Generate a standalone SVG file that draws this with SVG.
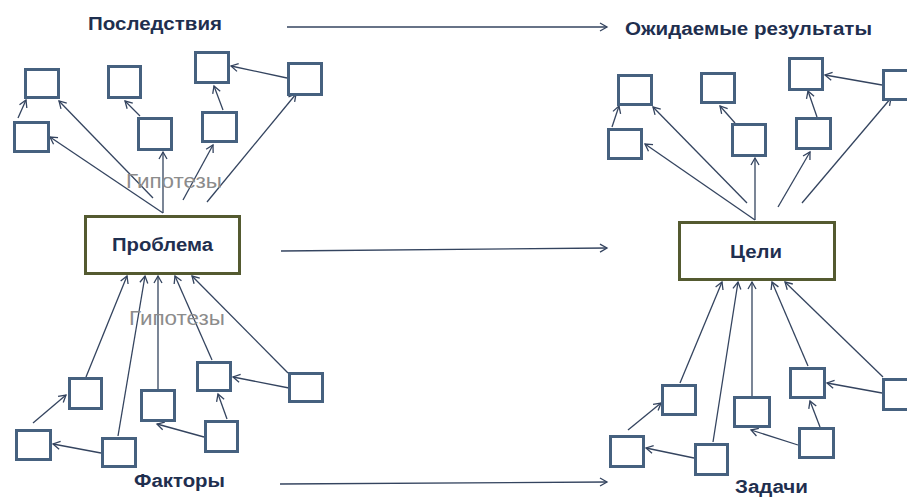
<svg xmlns="http://www.w3.org/2000/svg" width="907" height="497" viewBox="0 0 907 497">
<style>
.box{fill:#ffffff;stroke:#46617f;stroke-width:3}
.main{fill:#ffffff;stroke:#545a30;stroke-width:3}
.c{stroke:#34445f;stroke-width:1.3;fill:none;marker-end:url(#ah)}
.t{font-family:"Liberation Sans",Arial,sans-serif;font-weight:bold;font-size:18px;fill:#1f2f4f}
.h{font-family:"Liberation Sans",Arial,sans-serif;font-size:20px;fill:#8c8c8c}
</style>
<defs>
<marker id="ah" markerUnits="userSpaceOnUse" markerWidth="12" markerHeight="12" refX="8" refY="5" orient="auto">
<path d="M1,1 L8,5 L1,9" fill="none" stroke="#34445f" stroke-width="1.3"/>
</marker>
</defs>
<rect width="907" height="497" fill="#ffffff"/>
<g id="connectors">
<line class="c" x1="18" y1="118" x2="26" y2="100"/>
<line class="c" x1="153" y1="198" x2="59" y2="101"/>
<line class="c" x1="163" y1="213" x2="50" y2="137"/>
<line class="c" x1="163" y1="213" x2="163" y2="152"/>
<line class="c" x1="183" y1="200" x2="213" y2="145"/>
<line class="c" x1="207" y1="202" x2="296" y2="94"/>
<line class="c" x1="140" y1="116" x2="125" y2="101"/>
<line class="c" x1="223" y1="110" x2="214" y2="86"/>
<line class="c" x1="287" y1="78" x2="231" y2="66"/>
<line class="c" x1="86" y1="377" x2="127" y2="276"/>
<line class="c" x1="118" y1="436" x2="145" y2="276"/>
<line class="c" x1="158" y1="389" x2="158" y2="276"/>
<line class="c" x1="212" y1="360" x2="175" y2="276"/>
<line class="c" x1="288" y1="373" x2="192" y2="276"/>
<line class="c" x1="33" y1="423" x2="66" y2="395"/>
<line class="c" x1="101" y1="453" x2="53" y2="444"/>
<line class="c" x1="204" y1="437" x2="157" y2="424"/>
<line class="c" x1="227" y1="419" x2="218" y2="394"/>
<line class="c" x1="289" y1="388" x2="233" y2="377"/>
<line class="c" x1="612" y1="127" x2="619" y2="106"/>
<line class="c" x1="747" y1="203" x2="653" y2="107"/>
<line class="c" x1="755" y1="220" x2="645" y2="144"/>
<line class="c" x1="755" y1="220" x2="755" y2="158"/>
<line class="c" x1="735" y1="123" x2="720" y2="106"/>
<line class="c" x1="778" y1="207" x2="810" y2="152"/>
<line class="c" x1="802" y1="203" x2="891" y2="98"/>
<line class="c" x1="817" y1="117" x2="808" y2="91"/>
<line class="c" x1="882" y1="85" x2="825" y2="75"/>
<line class="c" x1="680" y1="383" x2="722" y2="282"/>
<line class="c" x1="713" y1="442" x2="738" y2="282"/>
<line class="c" x1="752" y1="396" x2="752" y2="282"/>
<line class="c" x1="808" y1="366" x2="772" y2="282"/>
<line class="c" x1="883" y1="377" x2="785" y2="282"/>
<line class="c" x1="628" y1="430" x2="661" y2="403"/>
<line class="c" x1="694" y1="458" x2="646" y2="448"/>
<line class="c" x1="798" y1="445" x2="751" y2="430"/>
<line class="c" x1="820" y1="427" x2="810" y2="401"/>
<line class="c" x1="882" y1="393" x2="827" y2="383"/>
<line class="c" x1="287" y1="27" x2="607" y2="27"/>
<line class="c" x1="281" y1="251" x2="607" y2="248"/>
<line class="c" x1="280" y1="484" x2="607" y2="482"/>
</g>
<g id="n-a"><rect class="box" x="25.5" y="69.5" width="33" height="28"/></g>
<g id="n-b"><rect class="box" x="14.5" y="122.5" width="34" height="29"/></g>
<g id="n-c"><rect class="box" x="108.5" y="66.5" width="32" height="31"/></g>
<g id="n-d"><rect class="box" x="138.5" y="118.5" width="33" height="31"/></g>
<g id="n-e"><rect class="box" x="195.5" y="52.5" width="33" height="30"/></g>
<g id="n-f"><rect class="box" x="202.5" y="112.5" width="34" height="29"/></g>
<g id="n-g"><rect class="box" x="288.5" y="63.5" width="33" height="31"/></g>
<g id="problem"><rect class="main" x="85.5" y="216.5" width="154" height="57"/><text class="t" x="112" y="251" textLength="101" lengthAdjust="spacingAndGlyphs">Проблема</text></g>
<g id="n-h"><rect class="box" x="69.5" y="378.5" width="32" height="30"/></g>
<g id="n-i"><rect class="box" x="16.5" y="430.5" width="34" height="29"/></g>
<g id="n-j"><rect class="box" x="102.5" y="438.5" width="33" height="28"/></g>
<g id="n-k"><rect class="box" x="141.5" y="390.5" width="33" height="30"/></g>
<g id="n-l"><rect class="box" x="197.5" y="362.5" width="33" height="28"/></g>
<g id="n-m"><rect class="box" x="205.5" y="421.5" width="32" height="30"/></g>
<g id="n-n"><rect class="box" x="289.5" y="373.5" width="33" height="28"/></g>
<g id="n-p1"><rect class="box" x="618.5" y="75.5" width="33" height="29"/></g>
<g id="n-p2"><rect class="box" x="608.5" y="129.5" width="33" height="29"/></g>
<g id="n-p3"><rect class="box" x="701.5" y="73.5" width="33" height="29"/></g>
<g id="n-p4"><rect class="box" x="732.5" y="124.5" width="33" height="31"/></g>
<g id="n-p5"><rect class="box" x="789.5" y="58.5" width="33" height="31"/></g>
<g id="n-p6"><rect class="box" x="796.5" y="118.5" width="34" height="30"/></g>
<g id="n-p7"><rect class="box" x="883.5" y="70.5" width="34" height="29"/></g>
<g id="goals"><rect class="main" x="679.5" y="222.5" width="155" height="57"/><text class="t" x="730" y="258" textLength="52" lengthAdjust="spacingAndGlyphs">Цели</text></g>
<g id="n-q1"><rect class="box" x="662.5" y="385.5" width="33" height="29"/></g>
<g id="n-q2"><rect class="box" x="610.5" y="436.5" width="33" height="30"/></g>
<g id="n-q3"><rect class="box" x="695.5" y="444.5" width="32" height="30"/></g>
<g id="n-q4"><rect class="box" x="734.5" y="397.5" width="35" height="29"/></g>
<g id="n-q5"><rect class="box" x="790.5" y="368.5" width="34" height="29"/></g>
<g id="n-q6"><rect class="box" x="799.5" y="428.5" width="34" height="29"/></g>
<g id="n-q7"><rect class="box" x="883.5" y="379.5" width="34" height="30"/></g>
<g id="labels">
<text class="t" x="88" y="30" textLength="134" lengthAdjust="spacingAndGlyphs">Последствия</text>
<text class="t" x="625" y="35" textLength="247" lengthAdjust="spacingAndGlyphs">Ожидаемые результаты</text>
<text class="t" x="134" y="487" textLength="91" lengthAdjust="spacingAndGlyphs">Факторы</text>
<text class="t" x="735" y="493" textLength="73" lengthAdjust="spacingAndGlyphs">Задачи</text>
<text class="h" x="126" y="188" textLength="96" lengthAdjust="spacingAndGlyphs">Гипотезы</text>
<text class="h" x="129" y="325" textLength="96" lengthAdjust="spacingAndGlyphs">Гипотезы</text>
</g>
</svg>
